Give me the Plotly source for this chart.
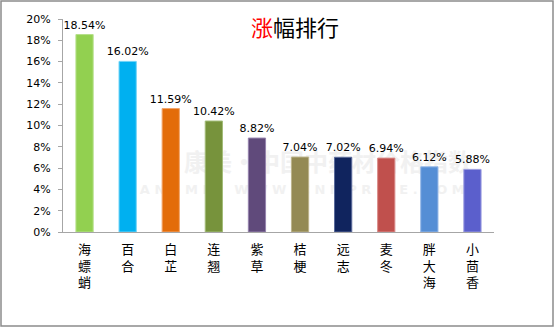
import plotly.graph_objects as go

# Top gainers by percentage change
herbs = ["海螵蛸", "百合", "白芷", "连翘", "紫草", "桔梗", "远志", "麦冬", "胖大海", "小茴香"]
gains = [18.54, 16.02, 11.59, 10.42, 8.82, 7.04, 7.02, 6.94, 6.12, 5.88]
bar_colors = ["#92D050", "#00B0F0", "#E36C09", "#77933C", "#604A7B",
              "#948A54", "#10245E", "#C0504D", "#558ED5", "#5B5FCC"]
edge_colors = ["#B5E08A", "#6FD3F7", "#F2A46A", "#A3BC78", "#9684AE",
               "#BDB48C", "#5A6A9A", "#DA8C8A", "#93B6E6", "#9A9CE0"]
y_ticks = list(range(0, 21, 2))
y_tick_text = [f"{t}%" for t in y_ticks]

W, H = 555, 328
L, R, T, B = 63, 61, 19, 96
pw, ph = W - L - R, H - T - B


def px(x):
    return (x - L) / pw


def py(y):
    return (H - B - y) / ph


# herb names stacked one character per line
tick_text = ["<br>".join(list(n)) for n in herbs]

fig = go.Figure()

# faint watermark on the base (pixel-coordinate) axes, beneath the bars
fig.add_trace(go.Scatter(
    x=[328, 295],
    y=[165, 191],
    mode="text",
    text=["<b>康美·中国中药材价格指数</b>",
          "<b>K A N G M E I   W W W . C N M P R I C E . C O M</b>"],
    textfont=dict(family=["Noto Sans CJK SC", "DejaVu Sans"], size=[24, 13],
                  color="#F1F1F1"),
    textposition="middle center",
    hoverinfo="skip",
    xaxis="x", yaxis="y",
    cliponaxis=False,
))

fig.add_trace(go.Bar(
    x=herbs,
    y=gains,
    width=0.4,
    marker=dict(color=bar_colors, line=dict(color=edge_colors, width=1)),
    text=[f"{v:.2f}%" for v in gains],
    textposition="outside",
    constraintext="none",
    textfont=dict(family="DejaVu Sans", size=11, color="#000000"),
    cliponaxis=False,
    hoverinfo="skip",
    xaxis="x2", yaxis="y2",
))

shapes = [
    # outer frame
    dict(type="rect", xref="paper", yref="paper",
         x0=px(1), x1=px(553), y0=py(1), y1=py(326),
         line=dict(color="#8C8C8C", width=1.5), fillcolor="rgba(0,0,0,0)",
         layer="below"),
]

fig.update_layout(
    width=W, height=H,
    margin=dict(l=L, r=R, t=T, b=B, pad=0),
    paper_bgcolor="#FFFFFF",
    plot_bgcolor="#FFFFFF",
    showlegend=False,
    shapes=shapes,
    annotations=[dict(
        text='<span style="color:#FF0000">涨</span>幅排行',
        xref="paper", yref="paper", x=px(295), y=py(26),
        xanchor="center", yanchor="middle", showarrow=False,
        font=dict(family="Noto Sans CJK SC", size=22, color="#000000"),
    )],
    xaxis=dict(range=[L, W - R], visible=False, fixedrange=True),
    yaxis=dict(range=[H - B, T], visible=False, fixedrange=True),
    xaxis2=dict(
        overlaying="x",
        tickmode="array", tickvals=herbs, ticktext=tick_text,
        showline=True, linecolor="#A6A6A6", linewidth=1,
        ticks="", showgrid=False, zeroline=False,
        ticklabelstandoff=5,
        tickfont=dict(family="Noto Sans CJK SC", size=13, color="#000000"),
        fixedrange=True,
    ),
    yaxis2=dict(
        overlaying="y",
        range=[0, 20], tickmode="array", tickvals=y_ticks, ticktext=y_tick_text,
        showline=True, linecolor="#A6A6A6", linewidth=1,
        ticks="outside", ticklen=4, tickcolor="#A6A6A6",
        showgrid=False, zeroline=False,
        ticklabelstandoff=5,
        tickfont=dict(family="DejaVu Sans", size=11, color="#000000"),
        fixedrange=True,
    ),
)

fig.write_html("out.html", config={"displayModeBar": False})
